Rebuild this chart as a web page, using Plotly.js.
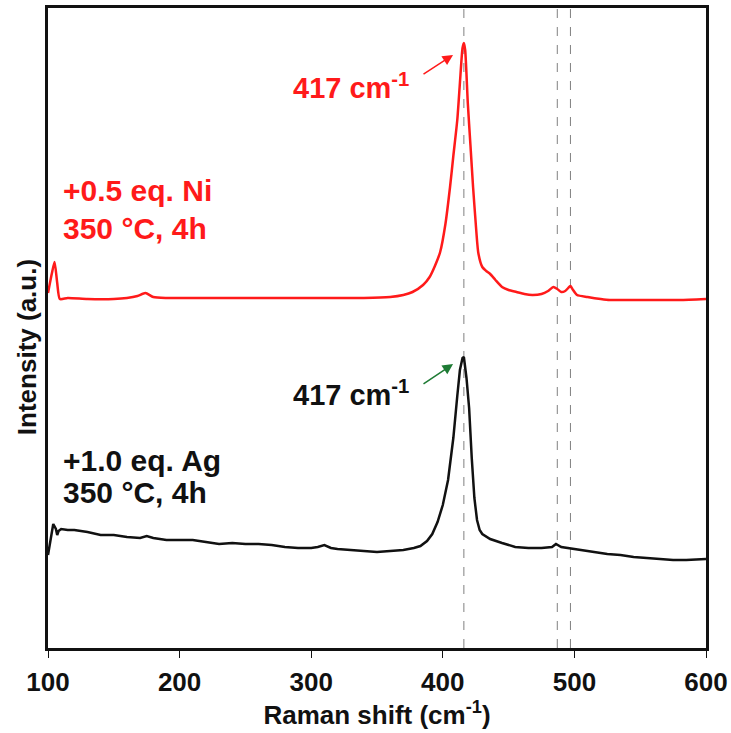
<!DOCTYPE html>
<html>
<head>
<meta charset="utf-8">
<script src="https://cdn.plot.ly/plotly-3.0.1.min.js"></script>
<style>html,body{margin:0;padding:0;background:#fff;}#chart{width:731px;height:733px;}</style>
</head>
<body>
<div id="chart"></div>
<script>
// Raman shift (cm-1) and intensity (a.u.)
const niShift = [100,103,105,107,109,115,130,150,160,168,174,180,190,220,260,300,340,360,370,377,385,390,394,398,402,405.5,408,411,413,415,416,417,419,421,423,425,427,430,433,436,440,445,450,456,462,468,475,480,484,487,490,493,496,497,499,502,510,520,527,540,560,580,600];
const niIntensity = [355,375,386,365,349,350,349,349,350,352,355,351,350,350,350,350,350,351,353,356,363,371,382,396,424,461,492,528,565,600,605,598,545,503,461,425,395,381,377,374,368,361,358,356,354,353,354,357,361,359,356,357,361,362,358,353,351,349,348,348,348,348,349];

const agShift = [100,102,104,106,107,108,110,115,120,130,140,150,160,170,175,180,190,200,210,220,230,240,250,260,270,280,290,300,305,310,315,320,330,340,350,360,370,378,383,388,392,396,400,404,408,411,413,415,416,418,420,422,424,426,428,430,436,445,455,465,475,483,486,490,495,505,515,525,535,545,555,565,575,585,595,600];
const agIntensity = [93,108,124,119,113,117,119,118,118,116,113,113,111,110,112,110,108,108,108,106,104,105,104,104,103,101,100,100,101,103,100,99,98,97,96,97,98,100,102,107,114,126,143,168,210,252,278,290,291,270,240,190,150,128,118,114,109,105,101,100,100,101,104,101,100,98,96,94,93,91,90,89,88,88,89,89];

const refLines = [416, 487, 497];
const xTicks = [100, 200, 300, 400, 500, 600];

const sampleNi = ["+0.5 eq. Ni", "350 °C, 4h"];
const sampleAg = ["+1.0 eq. Ag", "350 °C, 4h"];
const peakLabel = "417 cm<sup>-1</sup>";

const FONT = "Arial, 'Liberation Sans', sans-serif";
const RED = "#ff1a1a";
const GREEN = "#1e7b34";

const traces = [
  {x: niShift, y: niIntensity, type: "scatter", mode: "lines", line: {color: RED, width: 2.5, shape: "spline", smoothing: 0.6}, hoverinfo: "skip"},
  {x: agShift, y: agIntensity, type: "scatter", mode: "lines", line: {color: "#111111", width: 2.5}, hoverinfo: "skip"}
];

const shapes = refLines.map(v => ({
  type: "line", xref: "x", yref: "paper", x0: v, x1: v, y0: 0, y1: 1,
  line: {color: "#808080", width: 1, dash: "dash"}, layer: "below"
}));

const annotations = [
  {x: 109.5, y: 458, xref: "x", yref: "y", text: "<b>" + sampleNi[0] + "</b>", showarrow: false, xanchor: "left", yanchor: "middle", font: {family: FONT, size: 30, color: RED}},
  {x: 109.5, y: 420, xref: "x", yref: "y", text: "<b>" + sampleNi[1] + "</b>", showarrow: false, xanchor: "left", yanchor: "middle", font: {family: FONT, size: 30, color: RED}},
  {x: 109.5, y: 188, xref: "x", yref: "y", text: "<b>" + sampleAg[0] + "</b>", showarrow: false, xanchor: "left", yanchor: "middle", font: {family: FONT, size: 30, color: "#111"}},
  {x: 109.5, y: 156, xref: "x", yref: "y", text: "<b>" + sampleAg[1] + "</b>", showarrow: false, xanchor: "left", yanchor: "middle", font: {family: FONT, size: 30, color: "#111"}},
  {x: 376, y: 562, xref: "x", yref: "y", text: "<b>" + peakLabel + "</b>", showarrow: false, xanchor: "right", yanchor: "middle", font: {family: FONT, size: 29, color: RED}},
  {x: 376, y: 255, xref: "x", yref: "y", text: "<b>" + peakLabel + "</b>", showarrow: false, xanchor: "right", yanchor: "middle", font: {family: FONT, size: 29, color: "#111"}},
  {x: 407.8, y: 593, ax: 384.2, ay: 573, xref: "x", yref: "y", axref: "x", ayref: "y", text: "", showarrow: true, arrowhead: 2, arrowsize: 1.4, arrowwidth: 1.5, arrowcolor: RED},
  {x: 407.8, y: 284, ax: 384.2, ay: 263, xref: "x", yref: "y", axref: "x", ayref: "y", text: "", showarrow: true, arrowhead: 2, arrowsize: 1.4, arrowwidth: 1.5, arrowcolor: GREEN},
  {x: -0.032, y: 0.47, xref: "paper", yref: "paper", text: "<b>Intensity (a.u.)</b>", textangle: -90, showarrow: false, xanchor: "center", yanchor: "middle", font: {family: FONT, size: 26, color: "#111"}}
];

const layout = {
  width: 731, height: 733,
  margin: {l: 48, r: 25, t: 8, b: 85},
  paper_bgcolor: "#fff", plot_bgcolor: "#fff",
  showlegend: false,
  font: {family: FONT, color: "#111"},
  xaxis: {
    range: [100, 600], tickvals: xTicks, ticktext: xTicks.map(v => "<b>" + v + "</b>"),
    ticks: "outside", ticklen: 7, tickwidth: 1, tickcolor: "#111", ticklabelstandoff: 2,
    showline: true, linewidth: 3, linecolor: "#111", mirror: true,
    showgrid: false, zeroline: false,
    tickfont: {family: FONT, size: 26, color: "#111"},
    title: {text: "<b>Raman shift (cm<sup>-1</sup>)</b>", font: {family: FONT, size: 26, color: "#111"}, standoff: 10}
  },
  yaxis: {
    range: [0, 640], showticklabels: false, ticks: "",
    showline: true, linewidth: 3, linecolor: "#111", mirror: true,
    showgrid: false, zeroline: false
  },
  shapes: shapes,
  annotations: annotations
};

Plotly.newPlot("chart", traces, layout, {staticPlot: true, displayModeBar: false});
</script>
</body>
</html>
